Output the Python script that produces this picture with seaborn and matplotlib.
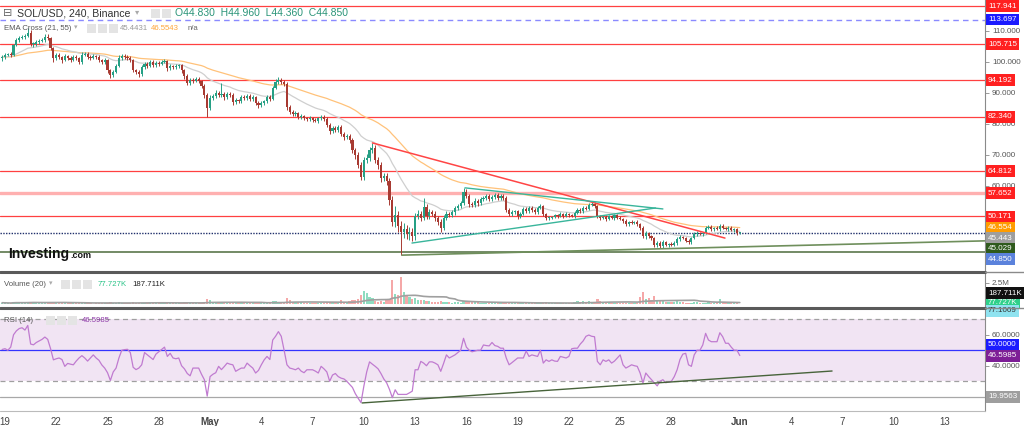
import matplotlib
matplotlib.use("Agg")
import numpy as np
import pandas as pd
import seaborn as sns
import matplotlib.pyplot as plt
from matplotlib.transforms import blended_transform_factory
from matplotlib.lines import Line2D
from matplotlib.patches import Rectangle

# 4h candles of SOL/USD, Apr 18 20:00 .. Jun 1 00:00 (one row of six per day)
first_open = 101.2
closes = [
    101.6,
    102.3, 102.6, 102.3, 105.5, 107.1, 107.7,   # Apr 19
    108.1, 108.4, 109.4, 105.8, 105.8, 106.5,   # Apr 20
    106.8, 107.1, 108.1, 107.7, 104.5, 101.3,   # Apr 21
    102.3, 101.6, 100.6, 101.9, 101.3, 100.6,   # Apr 22
    101.6, 101.3, 100.0, 102.3, 102.6, 101.6,   # Apr 23
    101.3, 101.9, 101.6, 100.6, 100.0, 100.6,   # Apr 24
    97.4, 95.8, 96.8, 98.7, 101.3, 101.9,       # Apr 25
    101.6, 101.3, 100.6, 97.4, 96.8, 96.1,      # Apr 26
    98.4, 99.4, 98.7, 100.0, 99.0, 99.7,        # Apr 27
    99.4, 100.0, 100.3, 98.0, 98.7, 98.4,       # Apr 28
    98.7, 99.0, 97.4, 95.5, 93.2, 94.2,         # Apr 29
    93.9, 94.5, 93.9, 92.3, 89.4, 85.2,         # Apr 30
    88.4, 89.0, 90.0, 89.4, 89.7, 88.7,         # May 1
    89.7, 89.4, 87.1, 87.7, 87.4, 88.7,         # May 2
    88.4, 89.0, 88.1, 88.7, 86.8, 86.1,         # May 3
    86.8, 87.4, 88.7, 88.1, 91.6, 93.5,         # May 4
    94.2, 93.5, 92.9, 85.5, 83.9, 83.2,         # May 5
    83.5, 82.3, 82.6, 81.9, 81.6, 81.9,         # May 6
    81.3, 81.0, 81.9, 82.3, 81.6, 79.7,         # May 7
    77.7, 78.7, 78.1, 79.0, 76.8, 75.8,         # May 8
    76.1, 74.8, 71.6, 70.0, 66.8, 62.9,         # May 9
    68.4, 69.0, 71.6, 72.3, 68.4, 66.8,         # May 10
    62.6, 63.2, 61.6, 55.5, 48.5, 50.5,         # May 11
    47.0, 45.2, 46.0, 44.5, 45.2, 43.9,         # May 12
    50.3, 51.0, 49.7, 53.2, 50.3, 51.6,         # May 13
    51.0, 49.7, 48.4, 46.5, 49.7, 51.0,         # May 14
    50.6, 51.6, 52.9, 53.5, 54.5, 58.1,         # May 15
    56.8, 54.2, 53.9, 55.2, 54.5, 55.8,         # May 16
    56.1, 56.8, 55.8, 56.5, 57.1, 56.1,         # May 17
    56.8, 56.1, 52.3, 51.0, 51.6, 51.9,         # May 18
    50.3, 51.0, 52.6, 51.9, 52.9, 52.3,         # May 19
    51.6, 52.9, 53.5, 51.0, 49.7, 49.7,         # May 20
    50.0, 50.6, 50.3, 51.0, 50.3, 51.0,         # May 21
    50.6, 50.3, 51.3, 52.3, 51.9, 52.9,         # May 22
    52.6, 53.9, 54.2, 53.5, 50.3, 49.7,         # May 23
    50.0, 49.4, 50.3, 49.7, 50.6, 49.7,         # May 24
    49.4, 48.7, 47.7, 48.4, 48.1, 48.4,         # May 25
    47.7, 46.5, 43.9, 44.8, 43.9, 43.2,         # May 26
    41.0, 41.6, 40.6, 41.9, 41.0, 41.3,         # May 27
    41.0, 41.6, 42.9, 43.5, 43.2, 42.3,         # May 28
    41.9, 43.2, 44.5, 44.8, 44.5, 44.8,         # May 29
    46.5, 46.8, 46.1, 46.5, 46.1, 47.1,         # May 30
    46.5, 46.1, 46.5, 45.8, 46.1, 44.83,        # May 31
    44.85,                                      # Jun 1
]
upper_wick = [
    0.6,
    0.5, 0.4, 0.6, 0.3, 0.8, 0.6,
    0.7, 0.5, 1.6, 0.9, 0.6, 0.5,
    0.5, 0.6, 0.8, 1.0, 0.5, 0.4,
    0.6, 0.5, 0.4, 0.7, 0.5, 0.6,
    0.5, 0.6, 0.4, 0.8, 0.6, 0.5,
    0.5, 0.6, 0.4, 0.5, 0.4, 0.6,
    0.4, 0.5, 0.6, 0.5, 0.8, 0.6,
    0.6, 0.5, 0.7, 0.5, 0.4, 0.5,
    0.6, 0.7, 0.5, 0.8, 0.5, 0.6,
    0.5, 0.7, 0.6, 0.5, 0.6, 0.4,
    0.6, 0.5, 0.4, 0.5, 0.6, 0.7,
    0.5, 0.6, 0.5, 0.4, 0.5, 0.6,
    0.8, 0.7, 0.9, 0.6, 3.5, 0.7,
    0.6, 0.5, 0.7, 0.6, 0.5, 0.8,
    0.5, 0.7, 0.6, 0.5, 0.4, 0.6,
    0.6, 0.5, 0.7, 0.5, 0.6, 0.9,
    1.1, 0.6, 0.7, 0.8, 0.6, 0.5,
    0.6, 0.5, 0.6, 0.4, 0.5, 0.6,
    0.5, 0.6, 0.4, 0.5, 0.6, 0.5,
    0.6, 0.8, 0.5, 0.7, 0.6, 0.5,
    0.7, 0.6, 0.8, 0.7, 0.9, 0.8,
    1.0, 1.2, 1.0, 1.6, 0.9, 0.8,
    1.0, 0.9, 1.1, 1.0, 1.2, 3.2,
    1.5, 1.6, 2.0, 1.4, 1.5, 1.3,
    1.0, 1.2, 0.9, 2.9, 1.0, 0.9,
    0.8, 0.9, 0.7, 0.8, 0.9, 0.8,
    0.7, 0.8, 0.6, 0.7, 0.8, 1.3,
    0.9, 0.7, 0.6, 0.8, 0.7, 0.6,
    0.6, 0.7, 0.5, 0.6, 0.7, 0.6,
    0.6, 0.5, 0.6, 0.5, 0.6, 0.5,
    0.5, 0.6, 0.7, 0.5, 0.6, 0.5,
    0.5, 0.6, 0.7, 0.5, 0.4, 0.5,
    0.4, 0.5, 0.4, 0.5, 0.4, 0.5,
    0.4, 0.5, 0.5, 0.6, 0.5, 0.6,
    0.5, 0.6, 0.7, 0.6, 0.5, 0.4,
    0.4, 0.5, 0.4, 0.5, 0.4, 0.5,
    0.5, 0.4, 0.5, 0.4, 0.5, 0.4,
    0.5, 0.4, 0.6, 0.8, 0.5, 0.4,
    0.5, 0.6, 0.5, 0.6, 0.5, 0.4,
    0.5, 0.6, 0.5, 0.6, 0.5, 0.4,
    0.5, 0.4, 0.5, 0.6, 0.5, 0.4,
    0.5, 0.6, 0.5, 0.4, 0.5, 0.6,
    0.5, 0.4, 0.5, 0.6, 0.4, 0.5,
    0.11,
]
lower_wick = [
    0.8,
    0.6, 0.5, 0.7, 0.4, 0.3, 0.5,
    0.4, 0.6, 0.3, 0.5, 0.9, 0.6,
    0.6, 0.4, 0.5, 0.6, 0.7, 1.2,
    0.5, 0.7, 0.8, 0.4, 0.6, 0.5,
    0.4, 0.5, 0.7, 0.5, 0.4, 0.6,
    0.6, 0.4, 0.5, 0.7, 0.8, 0.5,
    0.8, 1.0, 0.6, 0.5, 0.4, 0.5,
    0.5, 0.6, 0.5, 0.7, 0.8, 0.9,
    0.5, 0.6, 0.7, 0.4, 0.6, 0.5,
    0.6, 0.5, 0.4, 0.8, 0.5, 0.6,
    0.5, 0.6, 0.8, 0.9, 0.7, 0.6,
    0.6, 0.5, 0.7, 0.8, 0.9, 2.9,
    0.6, 0.8, 0.5, 0.7, 0.6, 0.8,
    0.7, 0.6, 0.9, 0.7, 0.6, 0.5,
    0.6, 0.5, 0.7, 0.6, 0.8, 0.9,
    0.7, 0.8, 0.5, 0.6, 0.5, 0.4,
    0.5, 0.6, 0.7, 0.9, 0.8, 0.7,
    0.7, 0.8, 0.6, 0.5, 0.6, 0.5,
    0.6, 0.5, 0.7, 0.5, 0.6, 0.8,
    0.9, 0.7, 0.8, 0.6, 0.8, 0.9,
    0.8, 0.9, 1.0, 1.2, 1.1, 1.0,
    1.0, 0.9, 0.8, 1.0, 1.1, 1.2,
    1.2, 1.0, 1.3, 1.5, 1.4, 1.6,
    1.8, 7.5, 2.0, 1.6, 1.8, 1.5,
    1.2, 0.9, 1.0, 0.8, 1.1, 0.9,
    0.8, 0.9, 1.0, 1.2, 0.8, 0.7,
    0.7, 0.6, 0.8, 0.7, 0.6, 0.5,
    0.8, 0.9, 0.7, 0.6, 0.8, 0.6,
    0.5, 0.6, 0.7, 0.5, 0.6, 0.7,
    0.5, 0.6, 0.8, 0.7, 0.6, 0.5,
    0.9, 0.6, 0.5, 0.6, 0.5, 0.6,
    0.6, 0.5, 0.4, 0.7, 0.8, 0.6,
    0.5, 0.4, 0.5, 0.4, 0.5, 0.4,
    0.5, 0.4, 0.5, 0.4, 0.6, 0.5,
    0.5, 0.4, 0.5, 0.6, 0.7, 0.6,
    0.5, 0.6, 0.4, 0.5, 0.6, 0.5,
    0.4, 0.5, 0.6, 0.5, 0.4, 0.5,
    0.5, 0.6, 0.8, 1.0, 0.7, 0.6,
    0.7, 0.6, 0.5, 0.6, 0.5, 0.6,
    0.4, 0.5, 0.6, 0.5, 0.4, 0.5,
    0.6, 0.5, 0.4, 0.5, 0.4, 0.5,
    0.4, 0.5, 0.6, 0.5, 0.4, 0.5,
    0.5, 0.4, 0.5, 0.4, 0.5, 0.6,
    0.47,
]
# volume in millions
volumes = [
    0.18,
    0.15, 0.12, 0.14, 0.28, 0.25, 0.18,
    0.16, 0.20, 0.30, 0.32, 0.22, 0.15,
    0.14, 0.18, 0.20, 0.25, 0.22, 0.30,
    0.20, 0.15, 0.18, 0.14, 0.12, 0.15,
    0.10, 0.12, 0.14, 0.12, 0.10, 0.11,
    0.10, 0.09, 0.12, 0.11, 0.13, 0.12,
    0.20, 0.28, 0.18, 0.16, 0.22, 0.18,
    0.14, 0.12, 0.15, 0.25, 0.20, 0.18,
    0.16, 0.14, 0.15, 0.18, 0.14, 0.13,
    0.15, 0.16, 0.14, 0.18, 0.15, 0.13,
    0.12, 0.14, 0.16, 0.22, 0.30, 0.20,
    0.15, 0.14, 0.13, 0.20, 0.28, 0.59,
    0.50, 0.30, 0.22, 0.20, 0.25, 0.18,
    0.16, 0.18, 0.20, 0.17, 0.15, 0.16,
    0.15, 0.14, 0.16, 0.15, 0.18, 0.20,
    0.16, 0.15, 0.18, 0.20, 0.35, 0.40,
    0.30, 0.25, 0.22, 0.75, 0.45, 0.30,
    0.28, 0.25, 0.22, 0.20, 0.18, 0.16,
    0.15, 0.14, 0.13, 0.14, 0.15, 0.30,
    0.32, 0.22, 0.20, 0.18, 0.55, 0.30,
    0.30, 0.35, 0.50, 0.45, 0.65, 1.10,
    1.50, 1.35, 0.90, 0.70, 0.40, 0.30,
    0.35, 0.30, 0.50, 0.60, 2.90, 1.20,
    1.10, 3.20, 1.40, 1.10, 0.80, 0.60,
    0.70, 0.55, 0.45, 0.50, 0.40, 0.35,
    0.30, 0.28, 0.30, 0.35, 0.30, 0.25,
    0.22, 0.20, 0.25, 0.22, 0.20, 0.35,
    0.32, 0.30, 0.28, 0.25, 0.22, 0.20,
    0.20, 0.18, 0.17, 0.16, 0.18, 0.15,
    0.14, 0.15, 0.25, 0.20, 0.16, 0.15,
    0.18, 0.16, 0.15, 0.14, 0.15, 0.14,
    0.13, 0.15, 0.16, 0.20, 0.22, 0.15,
    0.12, 0.11, 0.10, 0.12, 0.11, 0.10,
    0.10, 0.12, 0.25, 0.35, 0.30, 0.40,
    0.30, 0.35, 0.30, 0.28, 0.60, 0.35,
    0.25, 0.22, 0.30, 0.20, 0.18, 0.16,
    0.15, 0.18, 0.20, 0.16, 0.15, 0.18,
    0.20, 0.90, 1.45, 0.60, 0.70, 0.55,
    1.00, 0.50, 0.45, 0.40, 0.30, 0.30,
    0.25, 0.30, 0.35, 0.30, 0.22, 0.20,
    0.15, 0.18, 0.30, 0.22, 0.20, 0.18,
    0.20, 0.30, 0.20, 0.18, 0.20, 0.60,
    0.20, 0.16, 0.14, 0.13, 0.12, 0.10,
    0.078,
]
rsi = [
    50.5,
    51.0, 50.0, 52.0, 60.0, 62.5, 64.0,
    64.5, 63.0, 66.0, 54.0, 53.5, 55.0,
    56.0, 57.0, 58.5, 57.0, 51.0, 43.8,
    44.5, 45.0, 44.0, 39.6, 41.5, 41.0,
    40.6, 43.0, 45.0, 46.5, 45.0, 43.0,
    45.0, 47.0, 45.0, 43.5, 40.5, 38.5,
    35.5, 30.5, 36.0, 38.5, 45.0, 50.0,
    50.4, 50.6, 48.5, 39.0, 37.5, 38.5,
    40.6, 48.5, 47.0, 45.5, 44.0, 47.5,
    49.0, 50.5, 52.0, 46.0, 48.0, 45.0,
    44.5, 45.0, 40.0, 38.0, 35.0, 33.5,
    38.5, 38.5, 38.5, 34.5, 31.0, 20.4,
    33.0, 34.5, 35.5, 39.6, 37.5, 39.5,
    41.7, 41.0, 40.6, 36.4, 37.5, 38.5,
    38.5, 41.7, 40.0, 38.5, 35.3, 37.0,
    40.6, 43.8, 46.0, 44.0, 56.6, 59.0,
    62.0, 59.0, 50.0, 40.6, 38.5, 38.0,
    37.4, 38.5, 36.5, 35.5, 37.4, 37.4,
    37.4, 36.5, 35.3, 39.6, 38.0, 36.0,
    30.0, 34.0, 35.0, 33.0, 32.0, 31.5,
    30.0, 28.0, 26.0, 22.0, 19.0, 16.2,
    26.8, 36.0, 42.5, 41.0, 39.6, 38.0,
    35.0, 31.5, 29.0, 24.7, 19.4, 24.5,
    21.5, 21.5, 21.5, 21.5, 22.5, 23.6,
    37.4, 37.4, 42.8, 41.7, 40.0, 42.5,
    42.5, 41.7, 40.6, 36.4, 41.5, 47.0,
    45.0, 46.0, 47.0, 48.5, 50.0, 57.7,
    52.0, 50.0, 49.0, 49.5, 50.0, 50.0,
    53.4, 53.0, 52.8, 55.0, 53.0, 52.5,
    51.3, 51.3, 45.0, 40.6, 42.0, 43.5,
    45.0, 45.0, 45.0, 49.5, 46.0, 47.0,
    46.5, 46.0, 50.0, 41.7, 43.8, 42.8,
    43.8, 43.0, 42.8, 46.0, 45.5, 45.0,
    46.0, 51.0, 51.3, 51.3, 54.0, 56.0,
    59.0, 59.8, 59.0, 58.7, 42.8, 40.6,
    43.8, 42.8, 43.8, 41.7, 43.0, 45.0,
    47.0, 40.6, 38.5, 39.5, 40.6, 40.0,
    39.6, 35.3, 28.9, 35.3, 33.0, 31.0,
    29.0, 27.0, 30.0, 31.0, 29.0, 29.5,
    30.0, 33.0, 37.4, 44.0, 47.5, 48.0,
    40.6, 39.6, 47.0, 50.0, 50.0, 53.4,
    60.9, 56.6, 55.5, 55.5, 55.5, 61.3,
    58.7, 54.5, 54.5, 52.0, 50.0, 50.0,
    46.5985,
]

# horizontal levels and drawn lines (candle index, price)
red_levels = [117.941, 105.715, 94.192, 82.340, 64.812, 50.171]
pink_level = 57.652
blue_dashed_level = 113.697
support_level = 38.7
down_trend = ([130, 253.8], [73.9, 43.2])
tri_upper = ([162.5, 232.0], [59.4, 52.6])
tri_lower = ([143.9, 229.4], [41.6, 52.9])
up_trend = ([140.4, 345.0], [37.7, 42.3])
rsi_trend = ([126.4, 291.4], [16.0, 36.6])

price_labels = ['117.941', '113.697', '105.715', '94.192', '82.340', '64.812',
                '57.652', '50.171', '46.554', '45.443', '45.029', '44.850']
price_label_colors = ['#ff2020', '#1a1aff', '#ff2020', '#ff2020', '#ff2020', '#ff2020',
                      '#ff2020', '#ff2020', '#ff9c00', '#9e9e9e', '#2f5a1c', '#5b82dc']

tick_days = [0, 3, 6, 9, 12, 15, 18, 21, 24, 27, 30, 33, 36, 39, 43, 46, 49, 52, 55]
tick_labels = ['19', '22', '25', '28', 'May', '4', '7', '10', '13', '16', '19', '22',
               '25', '28', 'Jun', '4', '7', '10', '13']

sns.set_style("white")
plt.rcParams['font.family'] = ['Liberation Sans', 'DejaVu Sans']

df = pd.DataFrame({'close': closes, 'uw': upper_wick, 'lw': lower_wick,
                   'volume': volumes, 'rsi': rsi})
df['open'] = [first_open] + closes[:-1]
df['high'] = df[['open', 'close']].max(axis=1) + df['uw']
df['low'] = df[['open', 'close']].min(axis=1) - df['lw']
df['idx'] = np.arange(len(df))
df['ema21'] = df['close'].ewm(span=21, adjust=False).mean()
df['ema55'] = df['close'].ewm(span=55, adjust=False).mean()
df['vol_ma'] = df['volume'].rolling(20, min_periods=1).mean()
up = df['close'] >= df['open']

W, H = 1024, 426
fig = plt.figure(figsize=(W / 100, H / 100), dpi=100)


def box(x0, y0, x1, y1):
    return [x0 / W, 1 - y1 / H, (x1 - x0) / W, (y1 - y0) / H]


def ftext(x, y, s, **kw):
    fig.text(x / W, 1 - y / H, s, va='center', ha='left', **kw)


def icons(x, y, n):
    # small light grey option buttons next to the pane titles
    for k in range(n):
        fig.add_artist(Rectangle(((x + 11 * k) / W, 1 - (y + 4.5) / H), 9 / W, 9 / H,
                                 transform=fig.transFigure, fc='#e4e4e4', ec='none'))


ax_p = fig.add_axes(box(0, 0, 985, 271))
ax_v = fig.add_axes(box(0, 273, 985, 307))
ax_r = fig.add_axes(box(0, 309, 985, 411))
xlim = (-0.755, 345.1)
for ax in (ax_p, ax_v, ax_r):
    ax.set_xlim(*xlim)
    for s in ('top', 'left', 'bottom'):
        ax.spines[s].set_visible(False)
    ax.spines['right'].set_color('#8a8a8a')
    ax.spines['right'].set_linewidth(0.8)
    ax.yaxis.tick_right()
    ax.tick_params(axis='y', length=3, width=0.6, color='#8a8a8a',
                   labelsize=5.8, labelcolor='#555555', pad=2)

# ---- price pane
ax_p.set_ylim(32.58, 120)
for lv in red_levels:
    ax_p.axhline(lv, color='#ff4040', lw=0.9, zorder=1)
ax_p.axhline(pink_level, color='#ffb0b0', lw=2.4, zorder=1)
ax_p.axhline(blue_dashed_level, color='#8a8aff', lw=1.0, ls=(0, (4, 3)), zorder=1)
ax_p.axhline(closes[-1], color='#1f2f6b', lw=1.0, ls=(0, (1, 1)), zorder=1)
ax_p.axhline(support_level, color='#4d6b3c', lw=1.1, zorder=1)

sns.lineplot(x=df['idx'], y=df['ema55'], ax=ax_p, color='#ffc27a', lw=0.9, zorder=2)
sns.lineplot(x=df['idx'], y=df['ema21'], ax=ax_p, color='#cfcfcf', lw=0.9, zorder=2)

col = np.where(up, '#26a085', '#a83a32')
ax_p.vlines(df['idx'], df['low'], df['high'], colors=col, lw=0.7, zorder=3)
body_lo = df[['open', 'close']].min(axis=1)
body_h = (df['close'] - df['open']).abs().clip(lower=0.2)
ax_p.bar(df['idx'], body_h, bottom=body_lo, width=0.75, color=col, lw=0, zorder=4)

ax_p.plot(*down_trend, color='#ff4545', lw=1.1, zorder=5)
ax_p.plot(*tri_upper, color='#39b59b', lw=1.0, zorder=5)
ax_p.plot(*tri_lower, color='#39b59b', lw=1.0, zorder=5)
ax_p.plot(*up_trend, color='#6f8f5c', lw=1.2, zorder=5)

ax_p.set_yticks([60, 70, 80, 90, 100, 110])
ax_p.set_yticklabels(['%.3f' % v for v in [60, 70, 80, 90, 100, 110]])
ax_p.set_xticks([])
ax_p.set_xlabel('')
ax_p.set_ylabel('')

tp = blended_transform_factory(ax_p.transAxes, ax_p.transData)
prev = None
for lab, c in zip(price_labels, price_label_colors):
    v = float(lab)
    pos = v if prev is None else min(v, prev - 3.4)
    prev = pos
    ax_p.text(1.003, pos, lab, transform=tp, color='white', fontsize=5.8,
              va='center', ha='left', clip_on=False, zorder=10,
              bbox=dict(boxstyle='square,pad=0.3', fc=c, ec='none'))

# ---- volume pane
ax_v.set_ylim(-0.32, 3.67)
vcol = np.where(up, '#8fdcc0', '#f5a8a8')
ax_v.bar(df['idx'], df['volume'], width=0.8, color=vcol, lw=0, zorder=2)
sns.lineplot(x=df['idx'], y=df['vol_ma'], ax=ax_v, color='#a0a0a0', lw=1.2, zorder=3)
ax_v.set_yticks([2.5])
ax_v.set_yticklabels(['2.5M'])
ax_v.set_xticks([])
ax_v.set_xlabel('')
ax_v.set_ylabel('')
tv = blended_transform_factory(ax_v.transAxes, ax_v.transData)
ax_v.text(1.003, 1.3, '187.711K', transform=tv, color='white', fontsize=5.8,
          va='center', ha='left', clip_on=False, zorder=10,
          bbox=dict(boxstyle='square,pad=0.3', fc='#111111', ec='none'))
ax_v.text(1.003, 0.2, '77.727K', transform=tv, color='white', fontsize=5.8,
          va='center', ha='left', clip_on=False, zorder=9,
          bbox=dict(boxstyle='square,pad=0.3', fc='#2fd08a', ec='none'))

# ---- RSI pane
ax_r.set_ylim(10.8, 76.6)
ax_r.axhspan(30, 70, color='#f1e4f3', lw=0, zorder=0)
ax_r.axhline(70, color='#a0a0a0', lw=0.9, ls=(0, (4, 3)), zorder=1)
ax_r.axhline(30, color='#a0a0a0', lw=0.9, ls=(0, (4, 3)), zorder=1)
ax_r.axhline(50, color='#3434ff', lw=0.9, zorder=1)
ax_r.axhline(19.9563, color='#a8a8a8', lw=0.9, zorder=1)
sns.lineplot(x=df['idx'], y=df['rsi'], ax=ax_r, color='#c07bd0', lw=0.9, zorder=3)
ax_r.plot(*rsi_trend, color='#47633a', lw=1.0, zorder=4)
ax_r.set_yticks([40, 60])
ax_r.set_yticklabels(['40.0000', '60.0000'])
ax_r.set_xlabel('')
ax_r.set_ylabel('')
ax_r.set_xticks([6 * d + 1 for d in tick_days])
ax_r.set_xticklabels(tick_labels)
ax_r.tick_params(axis='x', length=2, color='#8a8a8a', labelsize=7,
                 labelcolor='#444444', pad=2.5)
for t in ax_r.get_xticklabels():
    if t.get_text() in ('May', 'Jun'):
        t.set_fontweight('bold')
tr = blended_transform_factory(ax_r.transAxes, ax_r.transData)
for val, lab, c, tc in [(75.5, '77.1069', '#8fe3f0', '#333333'),
                        (53.4, '50.0000', '#1a1aff', 'white'),
                        (46.3, '46.5985', '#7d1e96', 'white'),
                        (19.9563, '19.9563', '#9e9e9e', 'white')]:
    ax_r.text(1.003, val, lab, transform=tr, color=tc, fontsize=5.8,
              va='center', ha='left', clip_on=False, zorder=10,
              bbox=dict(boxstyle='square,pad=0.3', fc=c, ec='none'))

# pane separators
for y in (272, 308):
    fig.add_artist(Line2D([0, 985 / W], [1 - y / H] * 2, color='#5a5a5a', lw=2.2))
    fig.add_artist(Line2D([985 / W, 1], [1 - y / H] * 2, color='#8a8a8a', lw=1.0))
fig.add_artist(Line2D([0, 985 / W], [1 - 411 / H] * 2, color='#bbbbbb', lw=0.8))

# header texts
ftext(3, 13, '⊟', fontsize=8, color='#666666')
ftext(17, 13, 'SOL/USD, 240, Binance', fontsize=7.6, color='#333333')
ftext(135, 13, '▾', fontsize=6, color='#aaaaaa')
icons(151, 13, 2)
ftext(175, 13, 'O44.830  H44.960  L44.360  C44.850', fontsize=7.5, color='#2a9478')
ftext(4, 28, 'EMA Cross (21, 55)', fontsize=5.6, color='#555555')
ftext(74, 28, '▾', fontsize=5, color='#aaaaaa')
icons(87, 28, 3)
ftext(120, 28, '45.4431', fontsize=5.6, color='#9a9a9a')
ftext(151, 28, '46.5543', fontsize=5.6, color='#ffa53a')
ftext(188, 28, 'n/a', fontsize=5.6, color='#666666')
ftext(8, 254, 'Investing', fontsize=10, fontweight='bold', color='#111111')
ftext(70, 256, '.com', fontsize=6.5, fontweight='bold', color='#111111')
ftext(4, 284, 'Volume (20)', fontsize=5.6, color='#555555')
ftext(49, 284, '▾', fontsize=5, color='#aaaaaa')
icons(61, 284, 3)
ftext(98, 284, '77.727K', fontsize=5.6, color='#2cc489')
ftext(132, 284, '187.711K', fontsize=5.6, color='#222222')
ftext(4, 320, 'RSI (14)', fontsize=5.6, color='#555555')
icons(46, 320, 3)
ftext(82, 320, '46.5985', fontsize=5.6, color='#8e3aa8')

fig.savefig('out.png', dpi=100, facecolor='white')
